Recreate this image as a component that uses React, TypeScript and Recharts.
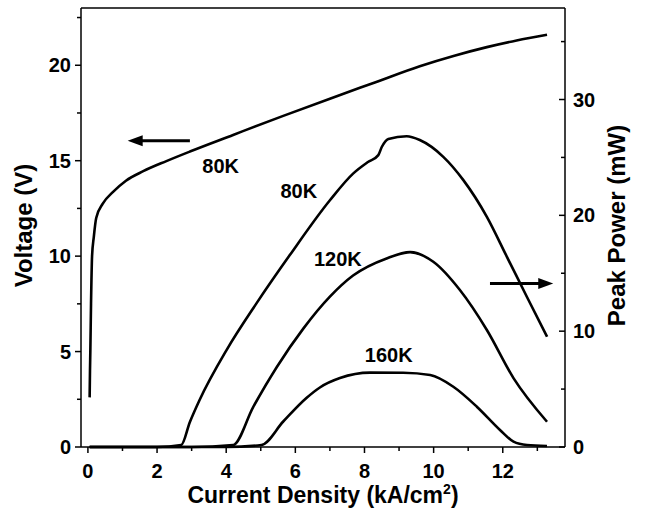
import React from 'react';
import { LineChart, Line, XAxis, YAxis, ReferenceLine, ReferenceDot } from 'recharts';

const FONT = '"Liberation Sans", Arial, Helvetica, sans-serif';

// voltage (V) vs current density (kA/cm2), 80K
const voltageJ = [0.05, 0.06, 0.07, 0.09, 0.12, 0.17, 0.24, 0.43, 0.72, 1.1, 1.6, 2.27, 2.95, 4.2, 5.65, 7.0, 8.3, 9.6, 10.6, 11.54, 12.4, 13.28];
const voltageV = [2.6, 4, 5, 7.5, 10, 11, 12, 12.75, 13.35, 13.95, 14.45, 14.98, 15.48, 16.35, 17.35, 18.25, 19.1, 19.95, 20.5, 20.95, 21.3, 21.6];

// peak power (mW)
const power80J = [0.05, 1, 2, 2.7, 2.95, 3.23, 4.01, 4.88, 5.84, 7.0, 7.67, 8.1, 8.4, 8.5, 8.69, 9.22, 9.6, 10.28, 10.86, 11.54, 12.12, 12.7, 13.28];
const power80P = [0, 0, 0, 0.17, 2.16, 4.06, 8.37, 12.42, 16.57, 21.3, 23.6, 24.6, 25.2, 25.9, 26.6, 26.83, 26.5, 25.05, 23.04, 19.87, 16.42, 12.95, 9.52];

const power120J = [0.05, 1, 2, 3, 4.2, 4.78, 5.46, 6.23, 7.0, 7.67, 8.64, 9.32, 9.99, 10.76, 11.54, 12.31, 13.28];
const power120P = [0, 0, 0, 0, 0.17, 3.45, 6.89, 10.22, 12.98, 14.8, 16.28, 16.82, 15.99, 13.55, 10.1, 5.95, 2.18];

const power160J = [0.05, 1, 2, 3, 4, 5.02, 5.65, 6.32, 6.71, 7.29, 8.16, 9.12, 9.9, 10.57, 11.25, 11.92, 12.31, 12.7, 13.28];
const power160P = [0, 0, 0, 0, 0, 0.17, 2.2, 4.23, 5.14, 5.95, 6.42, 6.41, 6.21, 5.2, 3.48, 1.47, 0.46, 0.17, 0.09];

// axes
const xTicks = [0, 1, 2, 3, 4, 5, 6, 7, 8, 9, 10, 11, 12, 13];
const leftTicks = [0, 2.5, 5, 7.5, 10, 12.5, 15, 17.5, 20, 22.5];
const rightTicks = [0, 5, 10, 15, 20, 25, 30, 35];

// annotations (x in kA/cm2, y in volts)
const labelText = ['80K', '80K', '120K', '160K'];
const labelJ = [3.84, 6.1, 7.23, 8.7];
const labelV = [14.75, 13.44, 9.88, 4.84];

const arrowFromJ = [2.95, 11.63];
const arrowToJ = [1.15, 13.46];
const arrowV = [16.05, 8.56];

const toPoints = (js: number[], ys: number[]) => js.map((j, i) => ({ j, y: ys[i] }));

const voltageData = toPoints(voltageJ, voltageV);
const p80Data = toPoints(power80J, power80P);
const p120Data = toPoints(power120J, power120P);
const p160Data = toPoints(power160J, power160P);

const textStyle = { fontFamily: FONT, fontWeight: 'bold' as const, fill: '#000' };

const BottomTick = (props: any) => {
  const { x, y, payload } = props;
  const major = payload.value % 2 === 0;
  return (
    <g>
      <line x1={x} y1={y} x2={x} y2={y + (major ? 6 : 4)} stroke="#000" strokeWidth={1.5} />
      {major && (
        <text x={x} y={y + 31} textAnchor="middle" fontSize={20} {...textStyle}>
          {payload.value}
        </text>
      )}
    </g>
  );
};

const LeftTick = (props: any) => {
  const { x, y, payload } = props;
  const major = payload.value % 5 === 0;
  return (
    <g>
      <line x1={x} y1={y} x2={x - (major ? 6 : 4)} y2={y} stroke="#000" strokeWidth={1.5} />
      {major && (
        <text x={x - 10} y={y + 7} textAnchor="end" fontSize={20} {...textStyle}>
          {payload.value}
        </text>
      )}
    </g>
  );
};

const RightTick = (props: any) => {
  const { x, y, payload } = props;
  const major = payload.value % 10 === 0;
  return (
    <g>
      <line x1={x} y1={y} x2={x - (major ? 6 : 4)} y2={y} stroke="#000" strokeWidth={1.5} />
      {major && (
        <text x={x + 8} y={y + 7} textAnchor="start" fontSize={20} {...textStyle}>
          {payload.value}
        </text>
      )}
    </g>
  );
};

const XTitle = (props: any) => {
  const { x, y, width } = props.viewBox;
  return (
    <text x={x + width / 2} y={y + 56} textAnchor="middle" fontSize={23} {...textStyle}>
      Current Density (kA/cm
      <tspan dy={-9} fontSize={14}>2</tspan>
      <tspan dy={9}>)</tspan>
    </text>
  );
};

const LeftTitle = (props: any) => {
  const { x, y, height } = props.viewBox;
  const cx = x + 32;
  const cy = y + height / 2 - 2;
  return (
    <text x={cx} y={cy} transform={`rotate(-90 ${cx} ${cy})`} textAnchor="middle" fontSize={24} {...textStyle}>
      Voltage (V)
    </text>
  );
};

const RightTitle = (props: any) => {
  const { x, y, height } = props.viewBox;
  const cx = x + 60;
  const cy = y + height / 2 - 2;
  return (
    <text x={cx} y={cy} transform={`rotate(-90 ${cx} ${cy})`} textAnchor="middle" fontSize={24} {...textStyle}>
      Peak Power (mW)
    </text>
  );
};

const Arrow = (props: any) => {
  const { x1, y1, x2, y2 } = props;
  const dir = Math.sign(x2 - x1) || 1;
  const head = 15;
  return (
    <g>
      <line x1={x1} y1={y1} x2={x2 - dir * (head - 2)} y2={y2} stroke="#000" strokeWidth={3} />
      <polygon
        points={`${x2},${y2} ${x2 - dir * head},${y2 - 5.5} ${x2 - dir * head},${y2 + 5.5}`}
        fill="#000"
      />
    </g>
  );
};

const axisLine = { stroke: '#000', strokeWidth: 1.5 };

export default function App() {
  return (
    <div style={{ position: 'absolute', left: 0, top: 0, background: '#fff' }}>
      <LineChart width={652} height={510} margin={{ top: 8, right: 0, bottom: 0, left: 0 }}>
        <XAxis
          type="number"
          dataKey="j"
          domain={[-0.2, 13.8]}
          ticks={xTicks}
          interval={0}
          height={63}
          tickSize={0}
          tickMargin={0}
          tickLine={false}
          axisLine={axisLine}
          tick={<BottomTick />}
          label={{ content: <XTitle /> } as any}
        />
        <YAxis
          yAxisId="left"
          type="number"
          domain={[0, 23]}
          ticks={leftTicks}
          interval={0}
          width={81}
          tickSize={0}
          tickMargin={0}
          tickLine={false}
          axisLine={axisLine}
          tick={<LeftTick />}
          label={{ content: <LeftTitle /> } as any}
        />
        <YAxis
          yAxisId="right"
          orientation="right"
          type="number"
          domain={[0, 37.9]}
          ticks={rightTicks}
          interval={0}
          width={87}
          tickSize={0}
          tickMargin={0}
          tickLine={false}
          axisLine={axisLine}
          tick={<RightTick />}
          label={{ content: <RightTitle /> } as any}
        />
        <ReferenceLine yAxisId="left" y={23} stroke="#000" strokeWidth={1.5} />

        <Line yAxisId="left" data={voltageData} dataKey="y" type="monotone" stroke="#000" strokeWidth={2.6} dot={false} isAnimationActive={false} />
        <Line yAxisId="right" data={p80Data} dataKey="y" type="monotone" stroke="#000" strokeWidth={2.6} dot={false} isAnimationActive={false} />
        <Line yAxisId="right" data={p120Data} dataKey="y" type="monotone" stroke="#000" strokeWidth={2.6} dot={false} isAnimationActive={false} />
        <Line yAxisId="right" data={p160Data} dataKey="y" type="monotone" stroke="#000" strokeWidth={2.6} dot={false} isAnimationActive={false} />

        {arrowFromJ.map((j, i) => (
          <ReferenceLine
            key={`arrow-${i}`}
            yAxisId="left"
            segment={[{ x: j, y: arrowV[i] }, { x: arrowToJ[i], y: arrowV[i] }]}
            shape={<Arrow />}
          />
        ))}

        {labelText.map((t, i) => (
          <ReferenceDot
            key={`lbl-${i}`}
            yAxisId="left"
            x={labelJ[i]}
            y={labelV[i]}
            r={0}
            fill="none"
            stroke="none"
            label={{ value: t, position: 'center', fontSize: 20, ...textStyle }}
          />
        ))}
      </LineChart>
    </div>
  );
}
